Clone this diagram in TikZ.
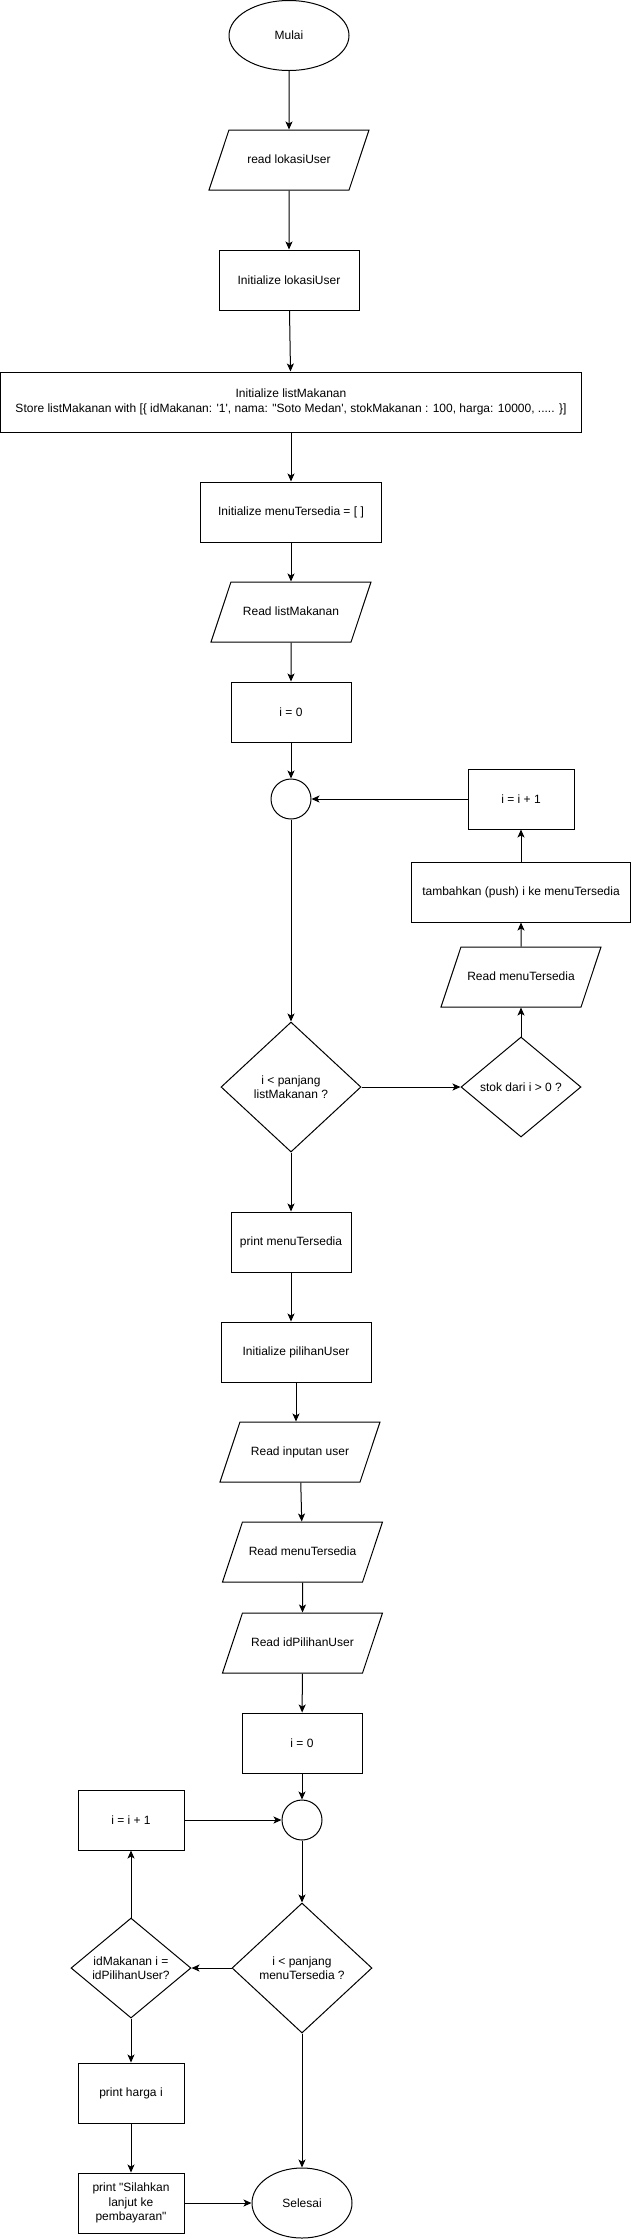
\documentclass[tikz,border=0pt]{standalone}
\usepackage{fontspec}
\newfontfamily\flowfont{Liberation Sans}
\usetikzlibrary{arrows.meta}
\usetikzlibrary{shapes.geometric}

\begin{document}
\begin{tikzpicture}[x=1pt, y=-1pt, line width=1pt,
    font=\flowfont\fontsize{12}{14.5}\selectfont,
    proses/.style={draw, rectangle, minimum width=#1, minimum height=60, inner sep=1pt, align=center},
    proses/.default=120,
    io/.style={draw, trapezium, trapezium left angle=71.6, trapezium right angle=108.4,
      trapezium stretches body=true, minimum width=160, text height=9, text depth=3,
      inner xsep=2pt, inner ysep=24pt},
    terminal/.style={draw, ellipse, minimum width=#1, minimum height=70, inner sep=0pt},
    konektor/.style={draw, circle, minimum size=40, inner sep=0pt},
    keputusan/.style={draw, diamond, aspect=1.1, inner sep=0pt, align=center},
    panah/.style={-{Stealth[length=8pt, width=7pt, inset=2pt]}}]
      \useasboundingbox (0, 0) rectangle (631, 2239);

      % bagian atas: inisialisasi
      \node [terminal=120] (mulai) at (289, 35.5) {Mulai};
      \node [io] (bacaLokasi) at (289, 160) {read lokasiUser};
      \node [proses=140] (initLokasi) at (289, 280) {Initialize lokasiUser};
      \node [proses=581] (initList) at (291, 402) {Initialize listMakanan\\Store listMakanan with [\{ idMakanan: '1', nama: "Soto Medan', stokMakanan : 100, harga: 10000, ..... \}]};
      \node [proses=181] (initMenu) at (291, 512) {Initialize menuTersedia = [ ]};
      \node [io] (bacaList) at (291, 612) {Read listMakanan};
      \node [proses] (iNol) at (291, 712) {i = 0};

      \draw [panah] (mulai) -- (bacaLokasi);
      \draw [panah] (bacaLokasi) -- (initLokasi);
      \draw [panah] (initLokasi) -- (initList);
      \draw [panah] (initList) -- (initMenu);
      \draw [panah] (initMenu) -- (bacaList);
      \draw [panah] (bacaList) -- (iNol);

      % perulangan pertama
      \node [konektor] (titik) at (291, 799) {};
      \node [keputusan, minimum width=140, minimum height=130] (cekPanjang) at (291, 1087) {i {<} panjang\\listMakanan ?};
      \node [keputusan, minimum width=120, minimum height=100] (cekStok) at (521, 1087) {stok dari i {>} 0 ?};
      \node [io] (bacaMenu) at (521, 977) {Read menuTersedia};
      \node [proses=219] (tambah) at (521, 892) {tambahkan (push) i ke menuTersedia};
      \node [proses=106] (iPlus) at (521, 799) {i = i + 1};

      \draw [panah] (iNol) -- (titik);
      \draw [panah] (titik) -- (cekPanjang);
      \draw [panah] (cekPanjang) -- (cekStok);
      \draw [panah] (cekStok) -- (bacaMenu);
      \draw [panah] (bacaMenu) -- (tambah);
      \draw [panah] (tambah) -- (iPlus);
      \draw [panah] (iPlus) -- (titik);

      % input pilihan user
      \node [proses] (cetakMenu) at (291, 1242) {print menuTersedia};
      \node [proses=150] (initPilihan) at (296, 1352) {Initialize pilihanUser};
      \node [io] (bacaInput) at (300, 1452) {Read inputan user};
      \node [io] (bacaMenuLagi) at (302.5, 1552) {Read menuTersedia};
      \node [io] (bacaId) at (302.5, 1643) {Read idPilihanUser};
      \node [proses] (iNolLagi) at (302, 1743) {i = 0};

      \draw [panah] (cekPanjang) -- (cetakMenu);
      \draw [panah] (cetakMenu) -- (cetakMenu |- initPilihan.north);
      \draw [panah] (initPilihan.south) -- (initPilihan.south |- bacaInput.north);
      \draw [panah] (bacaInput) -- (bacaMenuLagi);
      \draw [panah] (bacaMenuLagi) -- (bacaId);
      \draw [panah] (bacaId) -- (iNolLagi);

      % perulangan kedua
      \node [konektor] (titikLagi) at (302, 1820) {};
      \node [proses=106] (iPlusLagi) at (131, 1820) {i = i + 1};
      \node [keputusan, minimum width=140, minimum height=130] (cekPanjangLagi) at (302, 1968) {i {<} panjang\\menuTersedia ?};
      \node [keputusan, minimum width=120, minimum height=100] (cekId) at (131, 1968) {idMakanan i =\\idPilihanUser?};
      \node [proses=106] (cetakHarga) at (131, 2093) {print harga i};
      \node [proses=106] (cetakLanjut) at (131, 2203) {print "Silahkan\\lanjut ke\\pembayaran"};
      \node [terminal=100] (selesai) at (302, 2203) {Selesai};

      \draw [panah] (iNolLagi) -- (titikLagi);
      \draw [panah] (titikLagi) -- (cekPanjangLagi);
      \draw [panah] (cekPanjangLagi) -- (cekId);
      \draw [panah] (cekId) -- (iPlusLagi);
      \draw [panah] (iPlusLagi) -- (titikLagi);
      \draw [panah] (cekId) -- (cetakHarga);
      \draw [panah] (cetakHarga) -- (cetakLanjut);
      \draw [panah] (cetakLanjut) -- (selesai);
      \draw [panah] (cekPanjangLagi) -- (selesai);
    \end{tikzpicture}
\end{document}
